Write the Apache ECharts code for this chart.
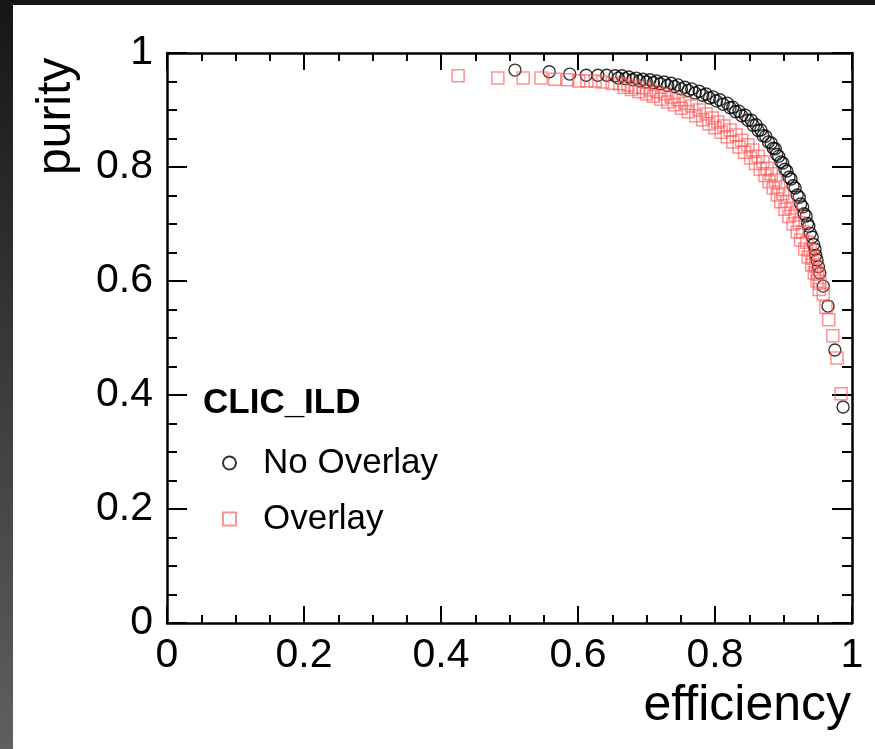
<!DOCTYPE html>
<html><head><meta charset="utf-8">
<script src="https://cdn.jsdelivr.net/npm/echarts@6/dist/echarts.min.js"></script>
<style>
html,body{margin:0;padding:0;width:875px;height:749px;overflow:hidden;background:linear-gradient(#161616,#5f5f5f);}
#paper{position:absolute;left:13px;top:5px;width:862px;height:744px;background:#fff;}
#chart{position:absolute;left:0;top:0;width:875px;height:749px;}
</style></head><body><div id="paper"></div><div id="chart"></div>
<script>
// Axis ticks
const xTickValues = [0, 0.2, 0.4, 0.6, 0.8, 1];
const yTickValues = [0, 0.2, 0.4, 0.6, 0.8, 1];

// No Overlay (black circles)
const noOverlayEff = [0.508,0.558,0.588,0.612,0.629,0.642,0.654,0.664,0.674,0.685,0.695,0.705,0.715,0.726,0.736,0.746,0.756,0.766,0.777,0.787,0.797,0.807,0.818,0.826,0.835,0.844,0.853,0.860,0.867,0.874,0.882,0.888,0.893,0.899,0.905,0.911,0.917,0.923,0.928,0.933,0.937,0.942,0.946,0.949,0.953,0.958,0.965,0.975,0.987,
  0.659,0.669,0.680,0.690,0.700,0.710,0.720,0.731,0.741,0.751,0.761,0.771,0.782,0.792,0.802,0.812,0.822,0.830,0.839,0.848,0.856,0.863,0.870,0.878,0.885,0.890,0.896,0.902,0.908,0.914,0.920,0.925,0.930,0.935,0.939,0.944,0.947,0.951];
const noOverlayPur = [0.970,0.967,0.963,0.961,0.961,0.961,0.960,0.960,0.958,0.956,0.954,0.953,0.951,0.949,0.947,0.944,0.940,0.937,0.933,0.928,0.923,0.918,0.912,0.905,0.898,0.891,0.882,0.874,0.865,0.854,0.842,0.832,0.819,0.807,0.793,0.779,0.763,0.747,0.730,0.714,0.696,0.677,0.656,0.637,0.614,0.591,0.556,0.479,0.379,
  0.956,0.955,0.953,0.951,0.949,0.948,0.946,0.943,0.941,0.937,0.934,0.930,0.926,0.921,0.916,0.910,0.904,0.897,0.890,0.882,0.873,0.864,0.855,0.844,0.833,0.822,0.809,0.796,0.782,0.767,0.751,0.735,0.718,0.701,0.684,0.664,0.645,0.625];

// Overlay (red squares)
const overlayEff = [0.425,0.483,0.520,0.546,0.566,0.585,0.601,0.613,0.625,0.636,0.650,0.661,0.673,0.683,0.695,0.705,0.715,0.726,0.736,0.746,0.756,0.766,0.777,0.787,0.796,0.804,0.813,0.822,0.831,0.839,0.848,0.855,0.863,0.870,0.876,0.882,0.888,0.893,0.899,0.905,0.911,0.917,0.923,0.928,0.934,0.939,0.943,0.947,0.950,0.953,0.958,0.962,0.966,0.972,0.978,0.984,
  0.667,0.678,0.689,0.700,0.710,0.721,0.731,0.741,0.751,0.761,0.772,0.782,0.791,0.800,0.809,0.818,0.826,0.835,0.843,0.852,0.859,0.866,0.873,0.879,0.885,0.891,0.896,0.902,0.908,0.914,0.920,0.925,0.931,0.936,0.941,0.945,0.949,0.952];
const overlayPur = [0.960,0.956,0.956,0.956,0.954,0.953,0.951,0.951,0.951,0.949,0.947,0.946,0.944,0.940,0.939,0.935,0.932,0.928,0.923,0.918,0.912,0.907,0.900,0.893,0.886,0.879,0.872,0.865,0.856,0.847,0.839,0.830,0.819,0.809,0.798,0.788,0.777,0.765,0.753,0.740,0.728,0.716,0.702,0.686,0.668,0.654,0.640,0.626,0.612,0.596,0.577,0.554,0.532,0.504,0.465,0.402,
  0.940,0.936,0.932,0.928,0.924,0.919,0.914,0.909,0.903,0.897,0.890,0.883,0.876,0.869,0.861,0.853,0.844,0.835,0.826,0.816,0.806,0.796,0.785,0.774,0.763,0.751,0.739,0.726,0.713,0.700,0.686,0.672,0.656,0.642,0.628,0.614,0.600,0.585];

const seriesNames = ['No Overlay', 'Overlay'];
const labelText = 'CLIC_ILD';

const FONT = "'Liberation Sans', Arial, Helvetica, sans-serif";
const zip = (a, b) => a.map((v, i) => [v, b[i]]);

const chart = echarts.init(document.getElementById('chart'), null, {renderer: 'canvas'});

function axisBase(extra) {
  return Object.assign({
    type: 'value', min: 0, max: 1, interval: 0.2,
    splitLine: {show: false},
    axisLine: {show: true, onZero: false, lineStyle: {color: '#000', width: 2.5}},
  }, extra);
}
const tickFmt = ticks => v => { const i = ticks.findIndex(t => Math.abs(t - v) < 1e-9); return i >= 0 ? String(ticks[i]) : ''; };

chart.setOption({
  animation: false,
  backgroundColor: 'transparent',
  grid: {left: 167, top: 53, width: 685, height: 570, containLabel: false},
  title: {
    text: labelText, left: 203, top: 383, padding: 0,
    textStyle: {fontFamily: FONT, fontSize: 35, fontWeight: 'bold', color: '#000', lineHeight: 40}
  },
  legend: {
    orient: 'vertical', left: 222, top: 443, padding: 0, itemGap: 16,
    itemWidth: 13, itemHeight: 13,
    data: [{name: seriesNames[0], icon: 'circle'}, {name: seriesNames[1], icon: 'rect'}],
    textStyle: {fontFamily: FONT, fontSize: 35, color: '#000', lineHeight: 40, padding: [0, 0, 0, 22]}
  },
  xAxis: [
    axisBase({position: 'bottom',
      axisTick: {show: true, inside: true, length: 17, lineStyle: {color: '#000', width: 2}},
      minorTick: {show: true, splitNumber: 4, length: 8, lineStyle: {color: '#000', width: 2}},
      axisLabel: {show: true, margin: 12, color: '#000', fontFamily: FONT, fontSize: 41,
        showMinLabel: true, showMaxLabel: true, formatter: tickFmt(xTickValues)}}),
    axisBase({position: 'top',
      axisTick: {show: true, inside: true, length: 17, lineStyle: {color: '#000', width: 2}},
      minorTick: {show: true, splitNumber: 4, length: 8, lineStyle: {color: '#000', width: 2}},
      axisLabel: {show: false}})
  ],
  yAxis: [
    axisBase({position: 'left',
      axisTick: {show: true, inside: true, length: 20, lineStyle: {color: '#000', width: 2}},
      minorTick: {show: true, splitNumber: 4, length: 10, lineStyle: {color: '#000', width: 2}},
      axisLabel: {show: true, margin: 14, color: '#000', fontFamily: FONT, fontSize: 41,
        showMinLabel: true, showMaxLabel: true, formatter: tickFmt(yTickValues)}}),
    axisBase({position: 'right',
      axisTick: {show: true, inside: true, length: 20, lineStyle: {color: '#000', width: 2}},
      minorTick: {show: true, splitNumber: 4, length: 10, lineStyle: {color: '#000', width: 2}},
      axisLabel: {show: false}})
  ],
  graphic: [
    {type: 'text', x: 851, y: 706, style: {text: 'efficiency', fontFamily: FONT, fontSize: 50, fill: '#000', textAlign: 'right', textVerticalAlign: 'middle'}},
    {type: 'text', x: 57, y: 175, rotation: Math.PI / 2, style: {text: 'purity', fontFamily: FONT, fontSize: 48, fill: '#000', textAlign: 'left', textVerticalAlign: 'middle'}}
  ],
  series: [
    {name: seriesNames[0], type: 'scatter', xAxisIndex: 0, yAxisIndex: 0, symbol: 'circle', symbolSize: 12,
     data: zip(noOverlayEff, noOverlayPur),
     itemStyle: {color: 'rgba(0,0,0,0)', borderColor: '#000', borderWidth: 1.4},
     emphasis: {disabled: true}},
    {name: seriesNames[1], type: 'scatter', xAxisIndex: 0, yAxisIndex: 0, symbol: 'rect', symbolSize: 12,
     data: zip(overlayEff, overlayPur),
     itemStyle: {color: 'rgba(0,0,0,0)', borderColor: 'rgba(255,85,85,0.8)', borderWidth: 1.5},
     emphasis: {disabled: true}}
  ]
});
</script></body></html>
